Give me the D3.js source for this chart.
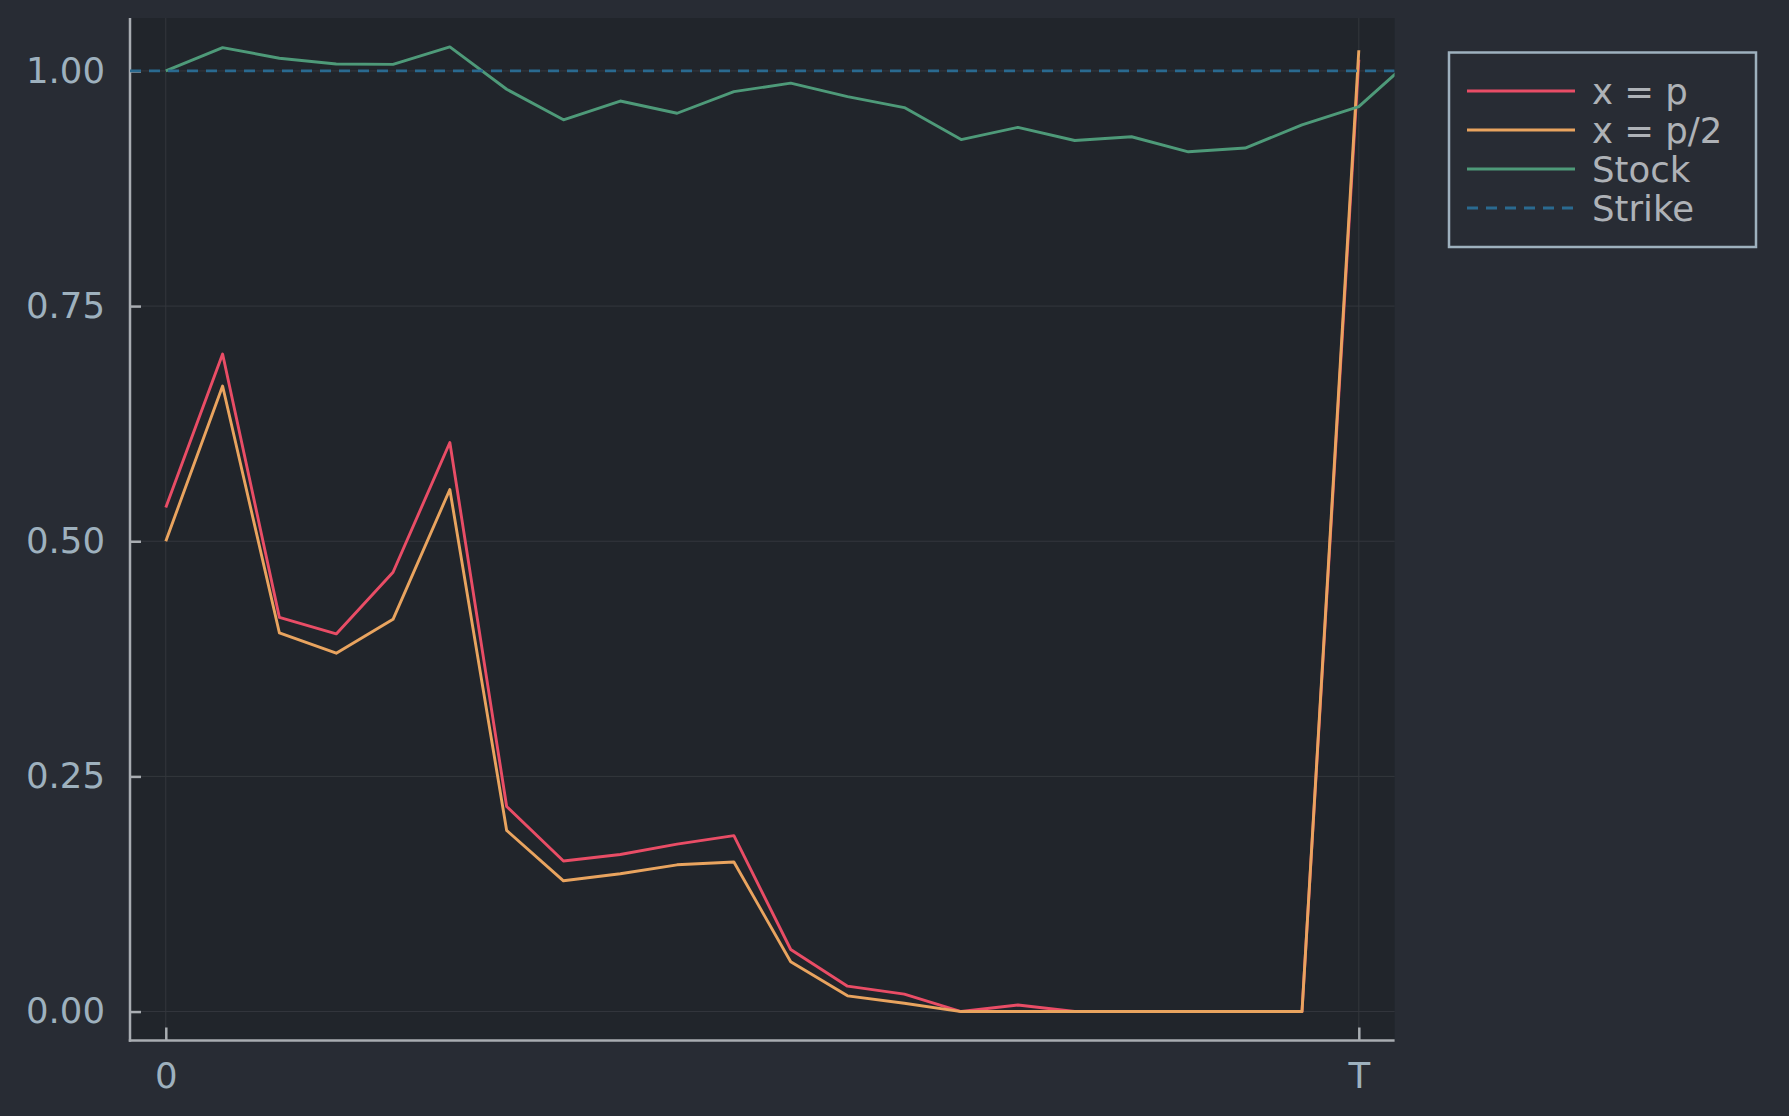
<!DOCTYPE html>
<html>
<head>
<meta charset="utf-8">
<script src="https://cdn.jsdelivr.net/npm/d3@7"></script>
<style>
  html, body { margin: 0; padding: 0; background: #282c34; }
  svg { display: block; font-family: "DejaVu Sans", sans-serif; }
</style>
</head>
<body>
<svg id="chart" width="1789" height="1116"></svg>
<script>
// time steps 0..T (21 steps), stock has one more point past T (clipped)
var steps = d3.range(22);
var xP = [0.536, 0.699, 0.419, 0.4015, 0.467, 0.605, 0.218, 0.160, 0.167, 0.178, 0.187,
          0.066, 0.027, 0.0185, 0.0, 0.007, 0.0, 0.0, 0.0, 0.0, 0.0, 1.012];
var xP2 = [0.500, 0.665, 0.4025, 0.381, 0.417, 0.555, 0.1926, 0.139, 0.1465, 0.156, 0.159,
           0.053, 0.0167, 0.0089, 0.0, 0.0, 0.0, 0.0, 0.0, 0.0, 0.0, 1.022];
var stock = [1.000, 1.0248, 1.0135, 1.0074, 1.007, 1.0255, 0.9805, 0.948, 0.968, 0.955, 0.978,
             0.987, 0.9727, 0.961, 0.927, 0.940, 0.926, 0.930, 0.914, 0.918, 0.9426, 0.962, 1.016];
var strike = 1.0;
var xTicks = [0, 21];
var xTickLabels = ["0", "T"];
var yTicks = [0, 0.25, 0.5, 0.75, 1.0];

var series = [
  {name: "x = p", values: xP, color: "#e94d66", dash: null},
  {name: "x = p/2", values: xP2, color: "#e9a45f", dash: null},
  {name: "Stock", values: stock, color: "#4e9a79", dash: null},
  {name: "Strike", values: null, color: "#2a6a90", dash: "11,8"}
];

var svg = d3.select("#chart");
var W = 1789, H = 1116;
var plotLeft = 130, plotRight = 1394.6, plotTop = 18, plotBottom = 1040.5;

svg.append("rect").attr("width", W).attr("height", H).attr("fill", "#282c34");
svg.append("rect").attr("x", plotLeft).attr("y", plotTop)
  .attr("width", plotRight - plotLeft).attr("height", plotBottom - plotTop).attr("fill", "#21252b");

// 3% widening like the original plot
var xPad = 0.03 * (steps[steps.length - 1] - steps[0]);
var x = d3.scaleLinear()
  .domain([steps[0] - xPad, steps[steps.length - 1] + xPad])
  .range([plotLeft, plotRight]);

var yMin = d3.min([d3.min(xP), d3.min(xP2), d3.min(stock)]);
var yMax = d3.max([d3.max(xP), d3.max(xP2), d3.max(stock.slice(0, 22))]);
var yPad = 0.03 * (yMax - yMin);
var y = d3.scaleLinear().domain([yMin - yPad, yMax + yPad]).range([plotBottom, plotTop]);

svg.append("clipPath").attr("id", "clip").append("rect")
  .attr("x", plotLeft).attr("y", plotTop)
  .attr("width", plotRight - plotLeft).attr("height", plotBottom - plotTop);

// grid
var grid = svg.append("g").attr("stroke", "#34373d").attr("stroke-width", 1);
yTicks.forEach(function(t) {
  grid.append("line").attr("x1", plotLeft).attr("x2", plotRight)
    .attr("y1", y(t)).attr("y2", y(t));
});
xTicks.forEach(function(t) {
  grid.append("line").attr("x1", x(t)).attr("x2", x(t))
    .attr("y1", plotTop).attr("y2", plotBottom);
});

// axes
var yAxis = d3.axisLeft(y).tickValues(yTicks).tickFormat(d3.format(".2f"))
  .tickSize(-11).tickPadding(25);
var gy = svg.append("g").attr("transform", `translate(${plotLeft},0)`).call(yAxis);
gy.select(".domain").remove();
gy.selectAll(".tick line").attr("stroke", "#a9adb2").attr("stroke-width", 2.5);
gy.selectAll(".tick text").attr("fill", "#9eb1be").attr("font-size", 35.5)
  .attr("font-family", "DejaVu Sans, sans-serif");

var xAxis = d3.axisBottom(x).tickValues(xTicks)
  .tickFormat(function(d, i) { return xTickLabels[i]; })
  .tickSize(-13).tickPadding(22);
var gx = svg.append("g").attr("transform", `translate(0,${plotBottom})`).call(xAxis);
gx.select(".domain").remove();
gx.selectAll(".tick line").attr("stroke", "#a9adb2").attr("stroke-width", 2.5);
gx.selectAll(".tick text").attr("fill", "#9eb1be").attr("font-size", 35.5)
  .attr("font-family", "DejaVu Sans, sans-serif");

// spines
svg.append("line").attr("x1", plotLeft).attr("x2", plotLeft)
  .attr("y1", plotTop).attr("y2", plotBottom + 1.2)
  .attr("stroke", "#a9adb2").attr("stroke-width", 2.5);
svg.append("line").attr("x1", plotLeft - 1.2).attr("x2", plotRight)
  .attr("y1", plotBottom).attr("y2", plotBottom)
  .attr("stroke", "#a9adb2").attr("stroke-width", 2.5);

// lines
var plot = svg.append("g").attr("clip-path", "url(#clip)");
var line = d3.line()
  .x(function(d, i) { return x(i); })
  .y(function(d) { return y(d); });

series.forEach(function(s) {
  if (s.values) {
    plot.append("path").datum(s.values)
      .attr("d", line).attr("fill", "none")
      .attr("stroke", s.color).attr("stroke-width", 2.9)
      .attr("stroke-linejoin", "round");
  } else {
    plot.append("line")
      .attr("x1", plotLeft).attr("x2", plotRight)
      .attr("y1", y(strike)).attr("y2", y(strike))
      .attr("stroke", s.color).attr("stroke-width", 2.9)
      .attr("stroke-dasharray", s.dash);
  }
});

// legend
var lg = svg.append("g");
lg.append("rect").attr("x", 1449).attr("y", 52.5).attr("width", 307).attr("height", 194.5)
  .attr("fill", "#282c34").attr("stroke", "#9eb1be").attr("stroke-width", 2.5);
series.forEach(function(s, i) {
  var yy = 91 + i * 39;
  lg.append("line").attr("x1", 1467).attr("x2", 1575).attr("y1", yy).attr("y2", yy)
    .attr("stroke", s.color).attr("stroke-width", 2.9)
    .attr("stroke-dasharray", s.dash);
  lg.append("text").attr("x", 1592).attr("y", yy).attr("dy", "0.36em")
    .attr("fill", "#aeb2b7").attr("font-size", 35.5).text(s.name);
});
</script>
</body>
</html>
